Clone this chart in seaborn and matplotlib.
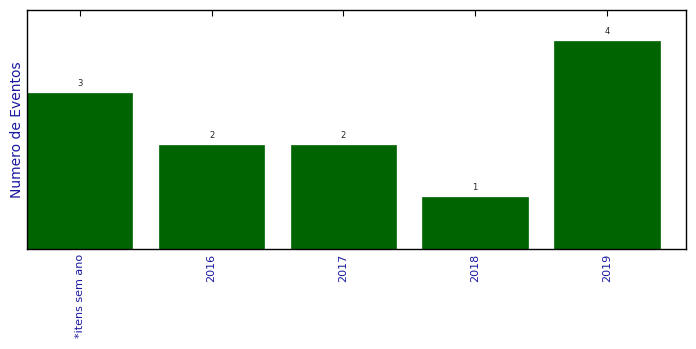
import matplotlib
matplotlib.use("Agg")
import matplotlib.pyplot as plt
import seaborn as sns
import pandas as pd

categories = ["*itens sem ano", "2016", "2017", "2018", "2019"]
values = [3, 2, 2, 1, 4]

sns.set_style("white")
plt.rcParams['font.family'] = ['DejaVu Sans']

df = pd.DataFrame({"cat": categories, "val": values})

fig = plt.figure(figsize=(6.96, 3.49), dpi=100)
ax = fig.add_axes([27/696, 1-249/349, (686-27)/696, (249-10)/349])
sns.barplot(data=df, x="cat", y="val", color="#006400", saturation=1, width=0.8, ax=ax, edgecolor="#006400", linewidth=0.5)
ax.set_xlim(-0.4, 4.6)
ax.set_ylim(0, 4.6)
ax.set_yticks([])
ax.set_xlabel("")
ax.set_ylabel("Numero de Eventos", color="#1a1aa0", fontsize=10, labelpad=2)
ax.tick_params(axis="x", direction="in", top=True, bottom=True, length=4, width=0.8, color="black",
               labelcolor="#1a1aa0", labelsize=8, labelrotation=90)
for s in ax.spines.values():
    s.set_color("black")
    s.set_linewidth(1)
for i, v in enumerate(values):
    ax.text(i, v + 0.1, str(v), ha="center", va="bottom", fontsize=6)
fig.savefig("out.png", dpi=100)
